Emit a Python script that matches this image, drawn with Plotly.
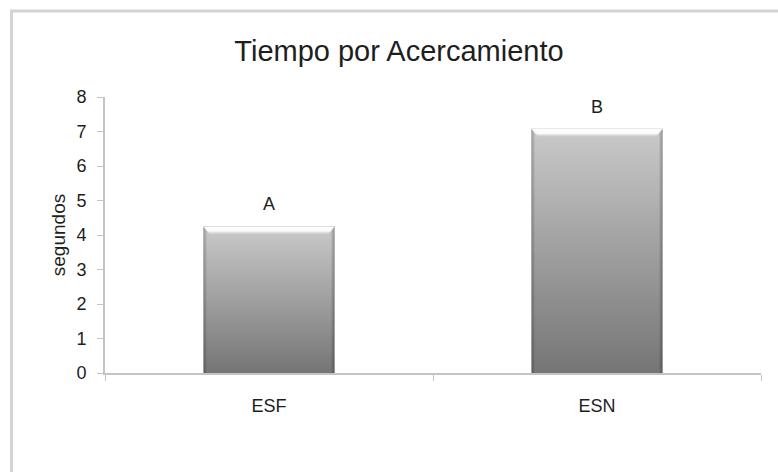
import plotly.graph_objects as go

categories = ["ESF", "ESN"]
values = [4.25, 7.08]
letters = ["A", "B"]
title_text = "Tiempo por Acercamiento"
y_title = "segundos"
y_ticks = [0, 1, 2, 3, 4, 5, 6, 7, 8]

FONT = "Liberation Sans, Arial, sans-serif"
bar_w = 0.4
px_per_unit = 276 / 8.0
bevel_units = 8 / px_per_unit

grad_svg = (
    "data:image/svg+xml;utf8,"
    "<svg xmlns='http://www.w3.org/2000/svg' width='100' height='100' viewBox='0 0 100 100' preserveAspectRatio='none'>"
    "<defs><linearGradient id='g' x1='0' y1='0' x2='0' y2='1'>"
    "<stop offset='0' stop-color='%23d2d2d2'/><stop offset='1' stop-color='%237a7a7a'/>"
    "</linearGradient>"
    "<linearGradient id='h' x1='0' y1='0' x2='1' y2='0'>"
    "<stop offset='0' stop-color='%23000' stop-opacity='0.28'/>"
    "<stop offset='0.03' stop-color='%23000' stop-opacity='0.04'/>"
    "<stop offset='0.97' stop-color='%23000' stop-opacity='0.04'/>"
    "<stop offset='1' stop-color='%23000' stop-opacity='0.32'/>"
    "</linearGradient></defs>"
    "<rect width='100' height='100' fill='url(%23g)'/>"
    "<rect width='100' height='100' fill='url(%23h)'/>"
    "</svg>"
)

bevel_svg = (
    "data:image/svg+xml;utf8,"
    "<svg xmlns='http://www.w3.org/2000/svg' width='100' height='100' viewBox='0 0 100 100' preserveAspectRatio='none'>"
    "<defs><linearGradient id='b' x1='0' y1='0' x2='0' y2='1'>"
    "<stop offset='0' stop-color='%23ffffff' stop-opacity='1'/>"
    "<stop offset='0.6' stop-color='%23fafafa' stop-opacity='1'/>"
    "<stop offset='1' stop-color='%23d8d8d8' stop-opacity='0.2'/>"
    "</linearGradient></defs>"
    "<polygon points='0,0 100,0 95,100 5,100' fill='url(%23b)'/>"
    "</svg>"
)

fig = go.Figure()
fig.add_trace(go.Bar(
    x=categories, y=values, width=bar_w,
    marker=dict(color="#a8a8a8", line=dict(width=0)),
    hoverinfo="skip",
))

images = []
for i, v in enumerate(values):
    images.append(dict(
        source=grad_svg, xref="x", yref="y",
        x=i - bar_w / 2, y=v, sizex=bar_w, sizey=v,
        xanchor="left", yanchor="top", sizing="stretch", layer="above",
    ))
    images.append(dict(
        source=bevel_svg, xref="x", yref="y",
        x=i - bar_w / 2, y=v, sizex=bar_w, sizey=bevel_units,
        xanchor="left", yanchor="top", sizing="stretch", layer="above",
    ))
fig.update_layout(images=images)

for c, v, t in zip(categories, values, letters):
    fig.add_annotation(x=c, y=v, text=t, showarrow=False, yanchor="bottom",
                       yshift=10, font=dict(family=FONT, size=18, color="#1e1e1e"))

fig.update_layout(
    width=778, height=472,
    margin=dict(l=105, r=17, t=97, b=99),
    paper_bgcolor="white", plot_bgcolor="white",
    showlegend=False,
    title=dict(text=title_text, x=399 / 778, xanchor="center", xref="container",
               y=1 - 51 / 472, yanchor="middle", yref="container",
               font=dict(family=FONT, size=29, color="#1e1e1e")),
    xaxis=dict(showline=True, linecolor="#c4c4c4", linewidth=2,
               ticks="outside", tickson="boundaries", ticklen=6, tickcolor="#c4c4c4",
               ticklabelstandoff=15,
               tickfont=dict(family=FONT, size=18, color="#1e1e1e"),
               showgrid=False, zeroline=False),
    yaxis=dict(range=[0, 8], tickvals=y_ticks, showline=True, linecolor="#c4c4c4",
               linewidth=2, ticks="outside", ticklen=6, tickcolor="#c4c4c4",
               ticklabelstandoff=7,
               tickfont=dict(family=FONT, size=18, color="#1e1e1e"),
               showgrid=False, zeroline=False,
               title=dict(text=y_title, standoff=6,
                          font=dict(family=FONT, size=19, color="#1e1e1e"))),
    shapes=[dict(type="rect", xref="paper", yref="paper",
                 x0=(11.5 - 105) / 656, x1=(800 - 105) / 656,
                 y0=(373 - 500) / 276, y1=(373 - 11) / 276,
                 line=dict(color="#d4d4d4", width=3), fillcolor="rgba(0,0,0,0)",
                 layer="below")],
)

fig.write_html("out.html")
